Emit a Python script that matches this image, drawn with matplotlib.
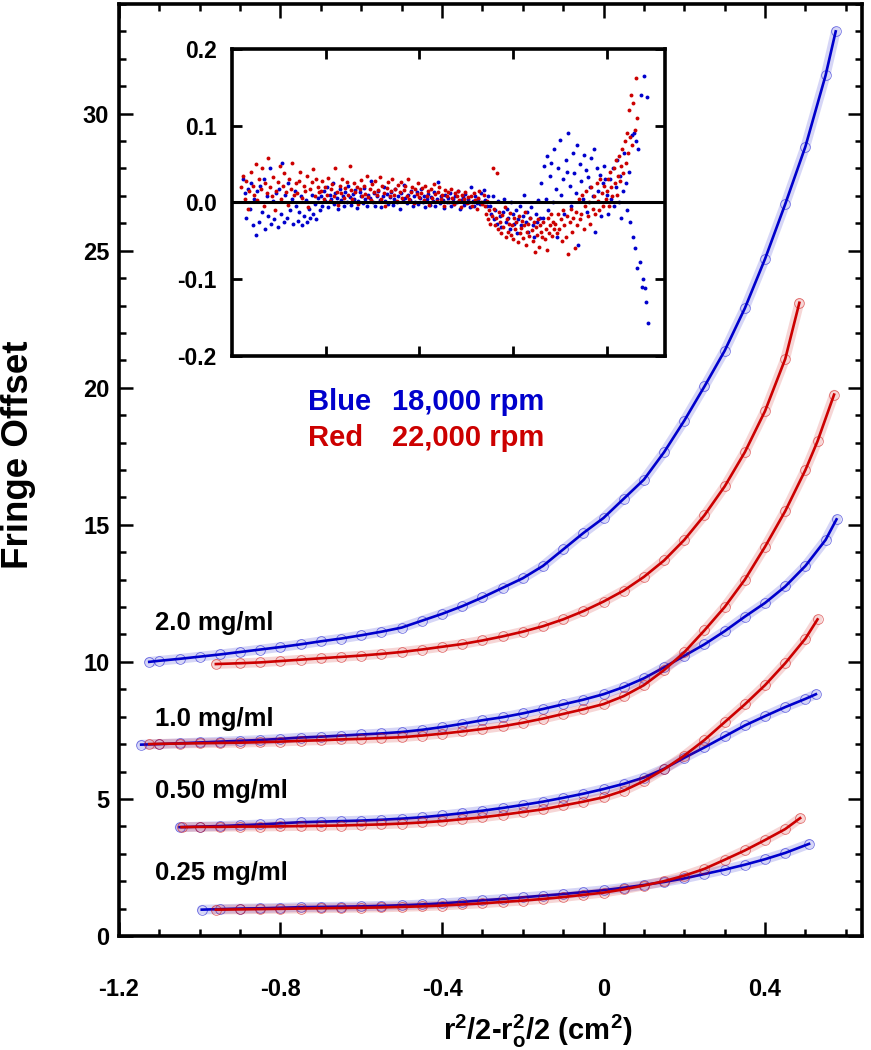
import numpy as np
import matplotlib.pyplot as plt
from matplotlib.ticker import MultipleLocator

plt.rcParams['font.family'] = ['Liberation Sans Narrow', 'Liberation Sans', 'DejaVu Sans']
plt.rcParams['font.weight'] = 'bold'
plt.rcParams['mathtext.fontset'] = 'custom'
plt.rcParams['mathtext.rm'] = 'Liberation Sans:bold'
plt.rcParams['mathtext.it'] = 'Liberation Sans:bold'
plt.rcParams['mathtext.bf'] = 'Liberation Sans:bold'

BLUE = '#0000cc'
RED = '#cc0000'
SANS = ['Liberation Sans', 'DejaVu Sans']

# ---- fringe offset curves ----
# 2.0 mg/ml
x_b20 = [-1.125, -1.10, -1.05, -1.00, -0.95, -0.90, -0.85, -0.80, -0.75, -0.70, -0.65, -0.60,
         -0.55, -0.50, -0.45, -0.40, -0.35, -0.30, -0.25, -0.20, -0.15, -0.10, -0.05, 0.00,
         0.05, 0.10, 0.15, 0.20, 0.25, 0.30, 0.35, 0.40, 0.45, 0.50, 0.55, 0.575]
y_b20 = [10.00, 10.04, 10.11, 10.19, 10.27, 10.36, 10.45, 10.54, 10.64, 10.75, 10.85, 10.97,
         11.10, 11.25, 11.50, 11.75, 12.03, 12.35, 12.70, 13.05, 13.50, 14.10, 14.70, 15.25,
         15.95, 16.65, 17.65, 18.80, 20.05, 21.35, 22.90, 24.70, 26.70, 28.80, 31.40, 33.00]
x_r20 = [-0.96, -0.90, -0.85, -0.80, -0.75, -0.70, -0.65, -0.60, -0.55, -0.50, -0.45, -0.40,
         -0.35, -0.30, -0.25, -0.20, -0.15, -0.10, -0.05, 0.00, 0.05, 0.10, 0.15, 0.20,
         0.25, 0.30, 0.35, 0.40, 0.45, 0.485]
y_r20 = [9.92, 9.95, 9.98, 10.03, 10.08, 10.13, 10.18, 10.23, 10.29, 10.36, 10.45, 10.55,
         10.65, 10.78, 10.93, 11.10, 11.30, 11.55, 11.85, 12.20, 12.60, 13.10, 13.70, 14.45,
         15.35, 16.40, 17.65, 19.15, 21.05, 23.10]
# 1.0 mg/ml
x_b10 = [-1.145, -1.10, -1.05, -1.00, -0.95, -0.90, -0.85, -0.80, -0.75, -0.70, -0.65, -0.60,
         -0.55, -0.50, -0.45, -0.40, -0.35, -0.30, -0.25, -0.20, -0.15, -0.10, -0.05, 0.00,
         0.05, 0.10, 0.15, 0.20, 0.25, 0.30, 0.35, 0.40, 0.45, 0.50, 0.55, 0.577]
y_b10 = [6.98, 7.00, 7.03, 7.06, 7.09, 7.12, 7.15, 7.19, 7.24, 7.27, 7.31, 7.35,
         7.39, 7.44, 7.52, 7.62, 7.74, 7.87, 7.98, 8.12, 8.28, 8.45, 8.62, 8.82,
         9.08, 9.40, 9.80, 10.22, 10.64, 11.12, 11.65, 12.15, 12.75, 13.50, 14.45, 15.20]
x_r10 = [-1.125, -1.10, -1.05, -1.00, -0.95, -0.90, -0.85, -0.80, -0.75, -0.70, -0.65, -0.60,
         -0.55, -0.50, -0.45, -0.40, -0.35, -0.30, -0.25, -0.20, -0.15, -0.10, -0.05, 0.00,
         0.05, 0.10, 0.15, 0.20, 0.25, 0.30, 0.35, 0.40, 0.45, 0.50, 0.53, 0.571]
y_r10 = [7.00, 7.01, 7.02, 7.03, 7.04, 7.05, 7.07, 7.09, 7.12, 7.14, 7.17, 7.19,
         7.22, 7.25, 7.31, 7.38, 7.46, 7.55, 7.65, 7.78, 7.93, 8.10, 8.27, 8.46,
         8.75, 9.15, 9.70, 10.35, 11.15, 12.00, 13.00, 14.20, 15.50, 17.00, 18.05, 19.75]
# 0.50 mg/ml
x_b05 = [-1.05, -1.00, -0.95, -0.90, -0.85, -0.80, -0.75, -0.70, -0.65, -0.60, -0.55,
         -0.50, -0.45, -0.40, -0.35, -0.30, -0.25, -0.20, -0.15, -0.10, -0.05, 0.00,
         0.05, 0.10, 0.15, 0.20, 0.25, 0.30, 0.35, 0.40, 0.45, 0.50, 0.526]
y_b05 = [3.97, 3.99, 4.01, 4.04, 4.07, 4.11, 4.15, 4.17, 4.19, 4.21, 4.24,
         4.28, 4.33, 4.40, 4.48, 4.57, 4.67, 4.78, 4.90, 5.04, 5.19, 5.36,
         5.55, 5.78, 6.10, 6.50, 6.88, 7.28, 7.68, 8.02, 8.35, 8.65, 8.82]
x_r05 = [-1.045, -1.00, -0.95, -0.90, -0.85, -0.80, -0.75, -0.70, -0.65, -0.60, -0.55,
         -0.50, -0.45, -0.40, -0.35, -0.30, -0.25, -0.20, -0.15, -0.10, -0.05, 0.00,
         0.05, 0.10, 0.15, 0.20, 0.25, 0.30, 0.35, 0.40, 0.45, 0.50, 0.53]
y_r05 = [3.97, 3.98, 3.98, 3.99, 3.99, 4.00, 4.01, 4.02, 4.03, 4.05, 4.07,
         4.10, 4.14, 4.19, 4.26, 4.33, 4.42, 4.52, 4.62, 4.76, 4.90, 5.06,
         5.30, 5.65, 6.08, 6.58, 7.15, 7.80, 8.45, 9.15, 9.95, 10.85, 11.55]
# 0.25 mg/ml
x_b025 = [-0.995, -0.95, -0.90, -0.85, -0.80, -0.75, -0.70, -0.65, -0.60, -0.55, -0.50,
          -0.45, -0.40, -0.35, -0.30, -0.25, -0.20, -0.15, -0.10, -0.05, 0.00,
          0.05, 0.10, 0.15, 0.20, 0.25, 0.30, 0.35, 0.40, 0.45, 0.509]
y_b025 = [0.96, 0.98, 1.00, 1.01, 1.03, 1.05, 1.06, 1.07, 1.08, 1.10, 1.12,
          1.15, 1.19, 1.24, 1.30, 1.35, 1.41, 1.47, 1.53, 1.60, 1.67,
          1.76, 1.86, 1.97, 2.10, 2.26, 2.42, 2.60, 2.80, 3.03, 3.36]
x_r025 = [-0.96, -0.90, -0.85, -0.80, -0.75, -0.70, -0.65, -0.60, -0.55, -0.50,
          -0.45, -0.40, -0.35, -0.30, -0.25, -0.20, -0.15, -0.10, -0.05, 0.00,
          0.05, 0.10, 0.15, 0.20, 0.25, 0.30, 0.35, 0.40, 0.45, 0.487]
y_r025 = [0.96, 0.97, 0.98, 0.99, 1.00, 1.01, 1.02, 1.03, 1.04, 1.06,
          1.08, 1.11, 1.15, 1.19, 1.24, 1.29, 1.35, 1.42, 1.50, 1.58,
          1.70, 1.84, 2.00, 2.20, 2.45, 2.78, 3.12, 3.50, 3.90, 4.30]

conc_labels = ['2.0 mg/ml', '1.0 mg/ml', '0.50 mg/ml', '0.25 mg/ml']
conc_label_y = [11.42, 7.92, 5.28, 2.29]

# ---- residuals (inset), units of 0.001 fringe, in scan order ----
# each run covers a stretch of the inset's (unlabelled) x range
res_blue_breaks = [0.12, 0.95, 2.75, 3.30, 4.00, 4.28, 4.45]
res_blue_runs = [
    [30, 12, -20, 18, -8, 25, -30, 5, -42, 15, -25, 22, -12, 30, -35, 8, -18, 45, -28, 2,
     -22, 12, -32, 18, -15, 52, -25, 10, -20, 25, -10, 5, -28, 15, -5, -24, -12, 8, -30, -18,
     3, -26, -8, -20, 10, -15, -2, -22, 6, -10],
    [8, -4, 15, 2, 20, -6, 10, 4, 25, -2, 12, 6, -8, 18, 3, 9, -5, 14, 0, 22,
     7, -3, 11, 5, 16, -7, 2, 13, 8, -1, 19, 4, -5, 10, 6, 28, 1, 12, -4, 9,
     15, 3, -6, 8, 20, 2, 11, -2, 7, 14, -3, 5, 17, 0, 9, -8, 12, 4, 23, 6,
     -1, 10, 3, 15, -5, 8, 1, 13, -2, 6, 18, 0, 9, -6, 4, 11, -3, 7, 2, 14,
     -4, 5, 26, -1, 8, 3, -7, 10, 0, 6, 12, -5, 4, -2, 9, 1, 15, -8, 3, 7,
     -3, 11, 0, 5, -6, 20, 2, -4, 8, -1, 4, -2, 12, 0, 16, 3, -4, 9],
    [-5, -15, 8, -22, -10, -28, 2, -18, -32, -12, 5, -25, -8, -20, -35, 0, -15, -28, -10, -40,
     -22, -5, -30, -18, 10, -25, -12, -38, -20, -6, -30, -45, -15, -25, 3, -20],
    [25, -20, 48, 5, 60, -10, 35, 52, 0, 70, 18, -45, 45, 82, 10, 30, -15, 55, 40, 90,
     22, -5, 65, 38, 12, 75, -55, 50, 28, 5, 62, 42, -12, 33, 20, 58, 8, 70, -38, 45,
     15, 36, -18, 25, 48, 30],
    [10, -15, 30, 5, 45, -5, 20, 55, 0, 35, -20, 15, 65, 25, -10, 40, -25, 88],
    [-45, 90, -60, 80, -85, 70, -77, 140, -110, -100, 165, -112, -130, 138, -157]]
res_red_breaks = [0.10, 0.95, 2.70, 3.45, 4.00, 4.33]
res_red_runs = [
    [20, 35, 5, 28, -8, 15, 40, 22, 10, 50, 3, 30, 18, 45, -5, 25, 12, 58, 20, 8,
     33, -10, 15, 27, 48, 5, 22, 38, 14, -3, 30, 18, 52, 10, 25, 12, 28, 40, 6, 22,
     15, 35, -6, 18, 26, 44, 9, 30, 20, 14],
    [15, 28, 5, 20, 10, 32, 2, 18, 24, 8, 45, 14, -3, 22, 12, 30, 6, 19, 26, 10,
     48, 16, 4, 25, 13, 20, -2, 17, 29, 9, 22, 11, 35, 7, 18, 3, 24, 14, 28, 10,
     16, 33, 5, 21, 12, -4, 19, 26, 8, 15, 30, 10, 18, 2, 23, 13, 27, 6, 16, 22,
     9, 31, 4, 14, 20, -1, 17, 11, 25, 7, 12, 19, 3, 22, 9, 15, -3, 18, 6, 24,
     11, 2, 14, 20, 5, 10, -5, 16, 8, 13, 1, 18, 6, -2, 12, 9, 15, 3, -6, 10,
     4, 14, -1, 7, 0, 8, -4, 12, 3, -8, 6, 15, 0, -2, 10],
    [-5, -15, 2, -22, -10, -28, -18, 45, -8, -30, -20, 38, -35, -12, -25, -40, -16, -32, -6, -45,
     -22, -38, -28, -14, -42, -30, -48, -20, -35, -26, -52, -18, -40, -33, -24, -46, -30, -12, -55, -38,
     -28, -44, -20, -36, -50, -25, -65, -32, -42, -22, -58, -30, -38, -45, -26, -48, -34, -62, -20, -40,
     -30, -15, -44, -25, -35],
    [-28, -40, -15, -35, -22, -50, -10, -30, -45, -18, -67, -25, -8, -38, -20, -60, -12, -30, 5, -22,
     -15, 10, -35, -5, 15, -18, 0, -28, 20, -8, 8, -15, 25, 2, -10, 30, 12, -5, 22, 5],
    [15, 30, -5, 40, 20, 8, 45, 25, 55, 10, 35, 60, 28, 48, 70, 38, 80, 52, 90, 65,
     120, 85, 140, 75, 130, 95, 162, 110]]

fig = plt.figure(figsize=(8.71, 10.5), dpi=100)
ax = fig.add_axes([0.1366, 0.1086, 0.853, 0.8876])

curves = [(x_b20, y_b20, BLUE), (x_b10, y_b10, BLUE), (x_b05, y_b05, BLUE), (x_b025, y_b025, BLUE),
          (x_r20, y_r20, RED), (x_r10, y_r10, RED), (x_r05, y_r05, RED), (x_r025, y_r025, RED)]
for xs, ys, c in curves:
    # pale band standing in for the dense overlapping data circles
    ax.plot(xs, ys, color=c, lw=7, alpha=0.16, solid_capstyle='round')
    ax.plot(xs, ys, 'o', ms=7, mfc='none', mec=c, mew=0.6, alpha=0.55)
    ax.plot(xs, ys, color=c, lw=1.9)

ax.set_xlim(-1.2, 0.64)
ax.set_ylim(0, 34)
ax.set_xticks([-1.2, -0.8, -0.4, 0, 0.4])
ax.set_xticklabels(['-1.2', '-0.8', '-0.4', '0', '0.4'])
ax.set_yticks([0, 5, 10, 15, 20, 25, 30])
ax.xaxis.set_minor_locator(MultipleLocator(0.1))
ax.yaxis.set_minor_locator(MultipleLocator(1))
ax.tick_params(which='both', direction='in', top=True, right=True, width=1.8, labelsize=17)
ax.tick_params(which='major', length=10)
ax.tick_params(which='minor', length=5)
ax.tick_params(axis='x', pad=30)
ax.tick_params(axis='y', pad=7)
for s in ax.spines.values():
    s.set_linewidth(2.6)

ax.set_ylabel('Fringe Offset', fontsize=26.5, fontweight='bold', family=SANS)
ax.yaxis.set_label_coords(-0.112, 0.516)
ax.set_xlabel(r'r$^{2}$/2-r$_{o}^{2}$/2 (cm$^{2}$)', fontsize=21, fontweight='bold')
ax.xaxis.set_label_coords(0.563, -0.082)

for lab, yy in zip(conc_labels, conc_label_y):
    ax.text(-1.112, yy, lab, fontsize=18.5, fontweight='bold', va='center', family=SANS)

fig.text(0.3536, 0.6171, 'Blue', color=BLUE, fontsize=21, fontweight='bold', va='center', family=SANS)
fig.text(0.45, 0.6171, '18,000 rpm', color=BLUE, fontsize=21, fontweight='bold', va='center', family=SANS)
fig.text(0.3536, 0.5829, 'Red', color=RED, fontsize=21, fontweight='bold', va='center', family=SANS)
fig.text(0.45, 0.5829, '22,000 rpm', color=RED, fontsize=21, fontweight='bold', va='center', family=SANS)

# ---- residual inset ----
axin = fig.add_axes([0.2664, 0.661, 0.4971, 0.2924])
for breaks, runs, c in [(res_blue_breaks, res_blue_runs, BLUE), (res_red_breaks, res_red_runs, RED)]:
    for i, run in enumerate(runs):
        xs = np.linspace(breaks[i], breaks[i + 1], len(run), endpoint=False)
        axin.plot(xs, np.array(run) / 1000.0, 'o', ms=2.8, mew=0, color=c)
axin.axhline(0, color='black', lw=2.2)
axin.set_xlim(0, 4.62)
axin.set_ylim(-0.2, 0.2)
axin.set_xticks([1, 2, 3, 4])
axin.set_xticklabels([])
axin.set_yticks([-0.2, -0.1, 0, 0.1, 0.2])
axin.set_yticklabels(['-0.2', '-0.1', '0.0', '0.1', '0.2'], family=SANS)
axin.tick_params(direction='in', top=True, right=True, length=7, width=2, labelsize=16.5, pad=11)
for s in axin.spines.values():
    s.set_linewidth(2.6)

fig.savefig('out.png', dpi=100)
